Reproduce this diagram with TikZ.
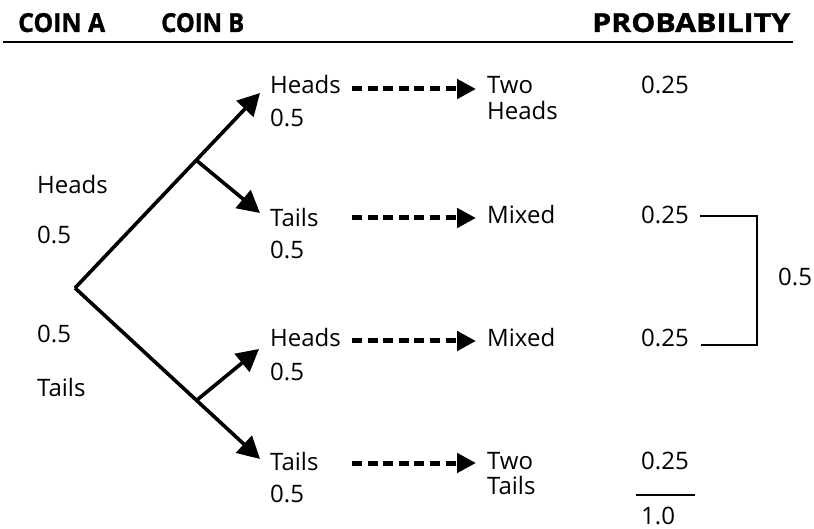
\documentclass[tikz,border=0pt]{standalone}
\usepackage{fontspec}
\setmainfont{Open Sans}
\newfontfamily\hdfont{Open Sans}[BoldFont={Open Sans Bold}, BoldFeatures={FakeBold=1.2}]
\usetikzlibrary{arrows.meta}
\begin{document}
\begin{tikzpicture}[x=1pt,y=-1pt,
  lbl/.style={anchor=base west, inner sep=0pt, font=\fontsize{24}{28}\selectfont},
  hd/.style={anchor=base west, inner sep=0pt, font=\hdfont\bfseries\fontsize{22}{26}\selectfont},
  tree/.style={line width=3.6pt, -{Triangle[length=22pt,width=23pt]}},
  dasharrow/.style={line width=5pt, dash pattern=on 10pt off 5.6pt, -{Triangle[length=19pt,width=19pt]}},
  thin/.style={line width=1.5pt}]
\useasboundingbox (0,0) rectangle (814,529);
% headers
\node[hd] (hA) at (18,32) {\resizebox{87pt}{19pt}{COIN A}};
\node[hd] (hB) at (161,32) {\resizebox{83pt}{19pt}{COIN B}};
\node[hd] (hP) at (592,32) {\resizebox{198pt}{19pt}{PROBABILITY}};
\coordinate (ruleL) at (3,42);
\coordinate (ruleR) at (793,42);
\draw[line width=2.4pt] (ruleL) -- (ruleR);
% tree
\coordinate (root) at (75,288);
\coordinate (s1) at (196,160);
\coordinate (s2) at (197,400);
\coordinate (tHH) at (260,93);
\coordinate (tHT) at (260,213);
\coordinate (tTH) at (259,349);
\coordinate (tTT) at (260,459);
\draw[tree] (root) -- (tHH);
\draw[tree] (s1) -- (tHT);
\draw[tree] (root) -- (tTT);
\draw[tree] (s2) -- (tTH);
% coin A labels
\node[lbl] (aH) at (37,194) {Heads};
\node[lbl] (aHp) at (37,244) {0.5};
\node[lbl] (aTp) at (37,342) {0.5};
\node[lbl] (aT) at (37,396) {Tails};
% coin B labels
\node[lbl] (b1) at (270,94) {Heads};
\node[lbl] (b1p) at (270,127) {0.5};
\node[lbl] (b2) at (270,227) {Tails};
\node[lbl] (b2p) at (270,259) {0.5};
\node[lbl] (b3) at (270,347) {Heads};
\node[lbl] (b3p) at (270,380) {0.5};
\node[lbl] (b4) at (270,470) {Tails};
\node[lbl] (b4p) at (270,502) {0.5};
% dashed arrows
\coordinate (d1s) at (352,89);
\coordinate (d1e) at (476,89);
\coordinate (d2s) at (352,218);
\coordinate (d2e) at (476,218);
\coordinate (d3s) at (352,341);
\coordinate (d3e) at (476,341);
\coordinate (d4s) at (352,463);
\coordinate (d4e) at (476,463);
\draw[dasharrow] (d1s) -- (d1e);
\draw[dasharrow] (d2s) -- (d2e);
\draw[dasharrow] (d3s) -- (d3e);
\draw[dasharrow] (d4s) -- (d4e);
% outcomes
\node[lbl] (o1a) at (487,94) {Two};
\node[lbl] (o1b) at (487,120) {Heads};
\node[lbl] (o2) at (487,224) {Mixed};
\node[lbl] (o3) at (487,346) {Mixed};
\node[lbl] (o4a) at (487,469) {Two};
\node[lbl] (o4b) at (487,494) {Tails};
% probabilities
\node[lbl] (p1) at (641,94) {0.25};
\node[lbl] (p2) at (641,224) {0.25};
\node[lbl] (p3) at (641,346) {0.25};
\node[lbl] (p4) at (641,469) {0.25};
\coordinate (sumL) at (636,495);
\coordinate (sumR) at (695,495);
\draw[thin] (sumL) -- (sumR);
\node[lbl] (tot) at (641,524) {1.0};
% bracket
\coordinate (brA) at (700,216);
\coordinate (brB) at (757,216);
\coordinate (brC) at (757,345);
\coordinate (brD) at (701,345);
\draw[thin] (brA) -- (brB) -- (brC) -- (brD);
\node[lbl] (half) at (778,286) {0.5};
\end{tikzpicture}
\end{document}
